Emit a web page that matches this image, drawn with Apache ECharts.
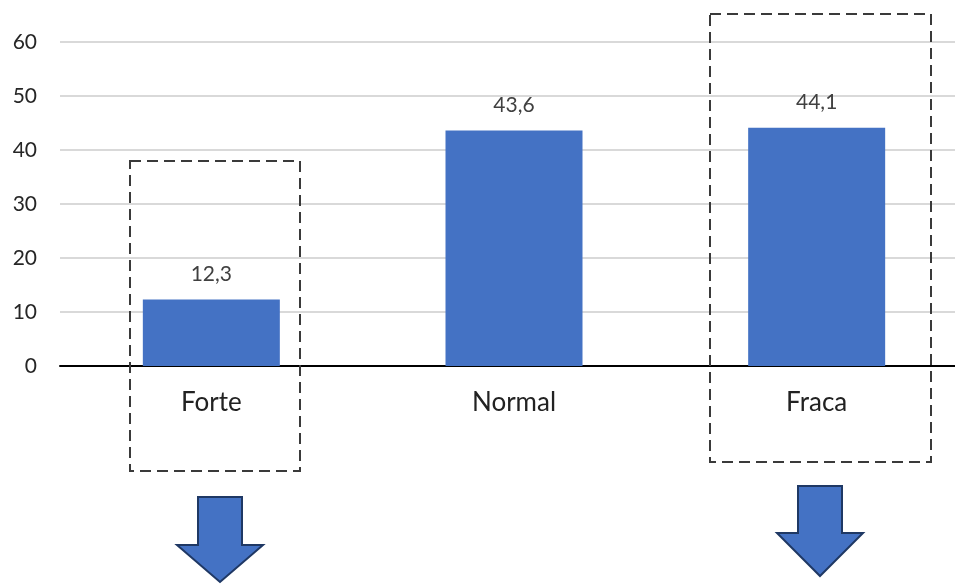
<!DOCTYPE html>
<html>
<head>
<meta charset="utf-8">
<script src="https://cdn.jsdelivr.net/npm/echarts@6/dist/echarts.min.js"></script>
<style>
  html, body { margin: 0; padding: 0; background: #fff; overflow: hidden; }
  #chart { width: 968px; height: 584px; }
</style>
</head>
<body>
<div id="chart"></div>
<script>
// categorias e valores
const categories = ['Forte', 'Normal', 'Fraca'];
const values = [12.3, 43.6, 44.1];
const yTicks = [0, 10, 20, 30, 40, 50, 60];

const blue = '#4472C4';
const navy = '#1F3864';

// seta para baixo (anotação)
function arrow(cx, top, headY, tipY) {
  return {
    type: 'polygon',
    shape: {
      points: [
        [cx - 22, top], [cx + 22, top], [cx + 22, headY], [cx + 43, headY],
        [cx, tipY], [cx - 43, headY], [cx - 22, headY]
      ]
    },
    style: { fill: blue, stroke: navy, lineWidth: 2 }
  };
}

function dashedBox(x, y, w, h) {
  return {
    type: 'rect',
    shape: { x: x, y: y, width: w, height: h },
    style: { fill: null, stroke: '#3a3a3a', lineWidth: 2, lineDash: [11, 6] },
    z: 10
  };
}

// a área do gráfico passa um pouco da janela à direita, como no original
let myChart = echarts.init(document.getElementById('chart'));
myChart.setOption({
  animation: false,
  grid: { left: 60, top: 42, bottom: 218, right: 0, containLabel: false },
  xAxis: {
    type: 'category',
    data: categories,
    axisLine: { lineStyle: { color: '#000', width: 2 } },
    axisTick: { show: false },
    axisLabel: { color: '#222', fontSize: 26, margin: 24, fontFamily: 'Lato' }
  },
  yAxis: {
    type: 'value',
    min: yTicks[0],
    max: yTicks[yTicks.length - 1],
    interval: 10,
    axisLine: { show: false },
    axisTick: { show: false },
    axisLabel: { color: '#262626', fontSize: 21, margin: 23, fontFamily: 'Lato' },
    splitLine: { lineStyle: { color: '#d9d9d9', width: 2 } }
  },
  series: [{
    type: 'bar',
    data: values,
    barWidth: 137,
    itemStyle: { color: blue },
    label: {
      show: true,
      position: 'top',
      distance: 15,
      color: '#404040',
      fontSize: 21,
      fontFamily: 'Lato',
      formatter: p => String(p.value).replace('.', ',')
    }
  }],
  graphic: [
    dashedBox(130, 161, 170, 310),
    dashedBox(710, 14, 221, 448),
    arrow(220, 497, 545, 582),
    arrow(820, 486, 533, 576)
  ]
});
</script>
</body>
</html>
